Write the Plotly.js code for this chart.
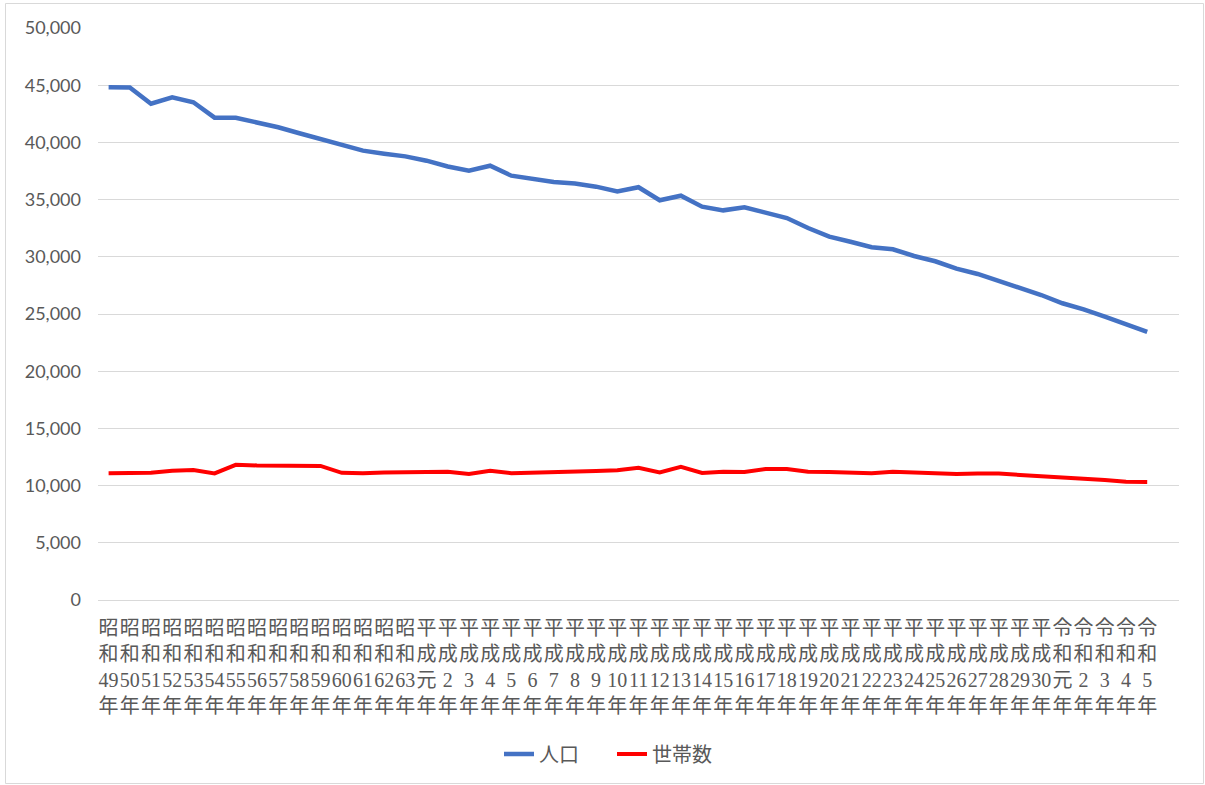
<!DOCTYPE html>
<html>
<head>
<meta charset="utf-8">
<script src="https://cdn.plot.ly/plotly-3.0.1.min.js"></script>
<style>
html,body{margin:0;padding:0;background:#fff;}
#chart{width:1205px;height:785px;}
</style>
</head>
<body>
<div id="chart"></div>
<script>
// Era labels (year categories)
const eras = [
  "昭和","昭和","昭和","昭和","昭和","昭和","昭和","昭和","昭和","昭和","昭和","昭和","昭和","昭和","昭和",
  "平成","平成","平成","平成","平成","平成","平成","平成","平成","平成","平成","平成","平成","平成","平成",
  "平成","平成","平成","平成","平成","平成","平成","平成","平成","平成","平成","平成","平成","平成","平成",
  "令和","令和","令和","令和","令和"
];
const years = [
  "49","50","51","52","53","54","55","56","57","58","59","60","61","62","63",
  "元","2","3","4","5","6","7","8","9","10","11","12","13","14","15",
  "16","17","18","19","20","21","22","23","24","25","26","27","28","29","30",
  "元","2","3","4","5"
];
// 人口
const population = [
  44820,44800,43380,43940,43510,42160,42160,41760,41320,40800,40300,39770,39280,39010,38780,
  38400,37890,37530,37960,37090,36800,36540,36410,36130,35720,36080,34940,35340,34380,34060,
  34330,33860,33390,32520,31760,31320,30830,30660,30070,29610,28960,28500,27910,27250,26660,
  25940,25410,24770,24100,23430
];
// 世帯数
const households = [
  11070,11090,11120,11300,11360,11070,11820,11760,11760,11760,11720,11120,11090,11150,11150,
  11190,11220,11010,11300,11090,11120,11190,11240,11280,11350,11550,11150,11640,11110,11210,
  11180,11460,11460,11210,11180,11110,11080,11210,11150,11020,11020,11050,11050,10930,10840,
  10740,10650,10490,10330,10310
];

const idx = years.map((_, i) => i);
const tickText = years.map((y, i) => eras[i].charAt(0) + "<br>" + eras[i].charAt(1) + "<br>" + y + "<br>年");

const data = [
  {x: idx, y: population, name: "人口", type: "scatter", mode: "lines",
   line: {color: "#4472C4", width: 4.5}},
  {x: idx, y: households, name: "世帯数", type: "scatter", mode: "lines",
   line: {color: "#FF0000", width: 4}}
];

const layout = {
  width: 1205, height: 785,
  margin: {l: 98, r: 26, t: 28, b: 185},
  paper_bgcolor: "#ffffff", plot_bgcolor: "#ffffff",
  showlegend: true,
  legend: {orientation: "h", x: (612 - 98) / 1081, xanchor: "center", y: (600 - 754) / 572, yanchor: "middle",
           entrywidth: 68, entrywidthmode: "pixels",
           font: {family: "Noto Sans CJK JP, sans-serif", size: 20, color: "#595959"}},
  xaxis: {
    range: [-0.5, 50.5], tickmode: "array", tickvals: idx, ticktext: tickText,
    tickangle: 0, showgrid: false, zeroline: false, showline: true, linecolor: "#d9d9d9", linewidth: 1,
    ticks: "", fixedrange: true, ticklabelstandoff: 10,
    tickfont: {family: "Liberation Serif, Noto Sans CJK JP, serif", size: 20, color: "#595959"}
  },
  yaxis: {
    range: [0, 50000], tickmode: "linear", tick0: 0, dtick: 5000, tickformat: ",",
    showgrid: true, gridcolor: "#d9d9d9", gridwidth: 1, zeroline: false, showline: false,
    ticks: "", ticklabelstandoff: 16,
    tickfont: {family: "Lato, Open Sans, sans-serif", size: 18, color: "#595959"}
  },
  shapes: [{type: "rect", xref: "paper", yref: "paper",
            x0: (5.5 - 98) / 1081, x1: (1203.5 - 98) / 1081,
            y0: (600 - 783.5) / 572, y1: (600 - 3.5) / 572,
            line: {color: "#d9d9d9", width: 1}, fillcolor: "rgba(0,0,0,0)", layer: "below"}]
};

Plotly.newPlot("chart", data, layout, {displayModeBar: false, staticPlot: true});
</script>
</body>
</html>
